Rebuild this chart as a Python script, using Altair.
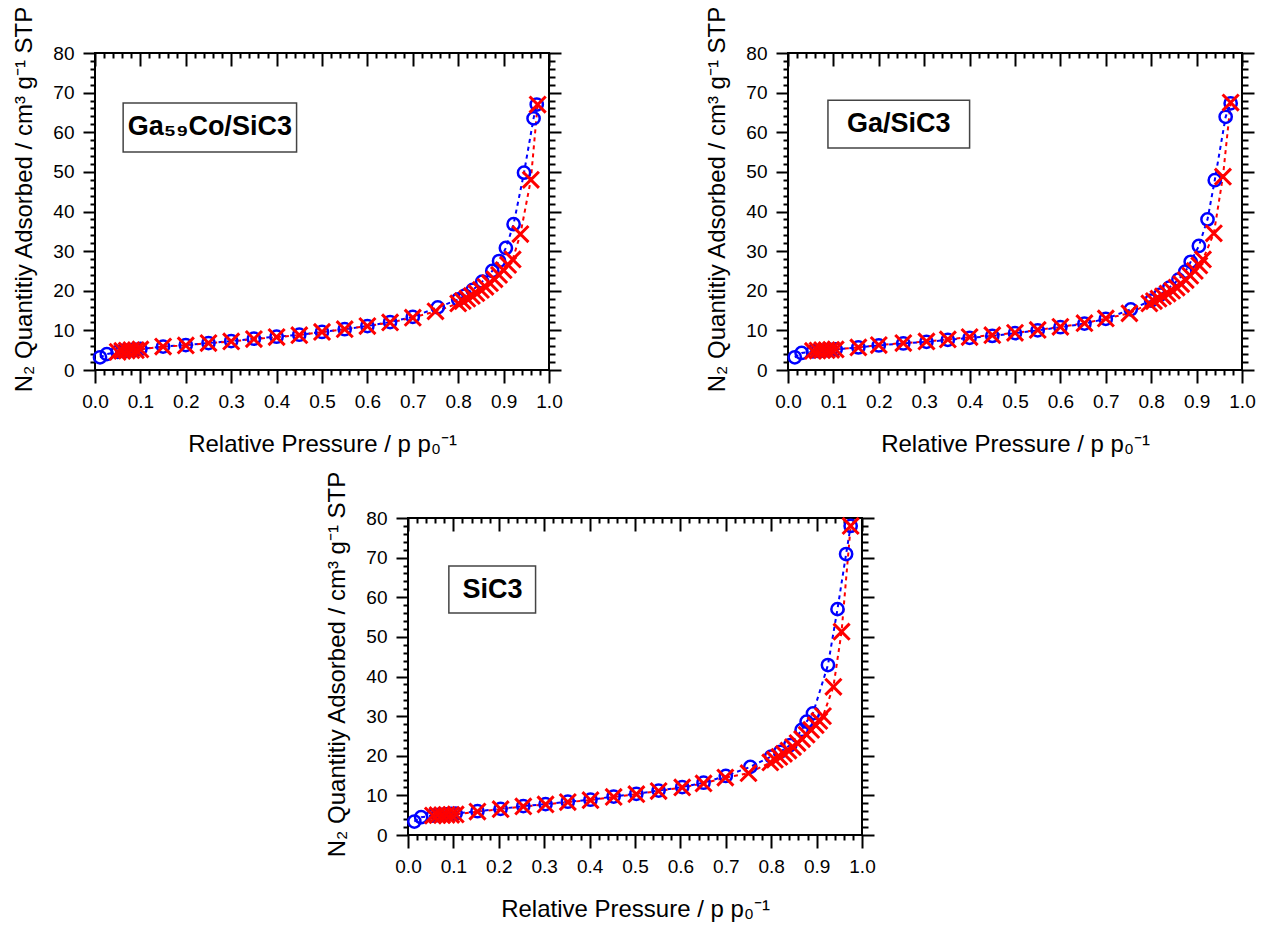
import altair as alt
import pandas as pd

# ---------------- data ----------------
# Panel 1: Ga59Co/SiC3
p1_ads_x = [0.011, 0.026, 0.05, 0.06, 0.07, 0.08, 0.09, 0.10, 0.15, 0.20, 0.25, 0.30, 0.35, 0.40,
            0.45, 0.50, 0.55, 0.60, 0.65, 0.70, 0.755, 0.80, 0.815, 0.832, 0.853, 0.875, 0.89,
            0.905, 0.922, 0.945, 0.966, 0.973]
p1_ads_y = [3.2, 4.0, 4.6, 4.8, 4.9, 5.0, 5.1, 5.3, 5.9, 6.3, 6.8, 7.3, 7.9, 8.4,
            8.9, 9.6, 10.3, 11.1, 12.1, 13.4, 15.8, 17.8, 18.8, 20.2, 22.3, 25.0, 27.5,
            30.8, 36.8, 49.8, 63.5, 67.0]
p1_des_x = [0.05, 0.06, 0.07, 0.08, 0.09, 0.10, 0.15, 0.20, 0.25, 0.30, 0.35, 0.40, 0.45, 0.50,
            0.55, 0.60, 0.65, 0.70, 0.75, 0.80, 0.81, 0.82, 0.83, 0.84, 0.85, 0.86, 0.87,
            0.88, 0.89, 0.90, 0.91, 0.92, 0.937, 0.96, 0.975]
p1_des_y = [4.6, 4.8, 4.9, 5.0, 5.0, 5.2, 5.9, 6.2, 6.8, 7.2, 7.8, 8.3, 8.8, 9.6,
            10.3, 11.1, 12.0, 13.2, 14.8, 16.8, 17.4, 18.0, 18.7, 19.4, 20.2, 21.0, 21.9,
            22.9, 24.0, 25.2, 26.5, 27.9, 34.3, 48.0, 67.0]

# Panel 2: Ga/SiC3
p2_ads_x = [0.015, 0.03, 0.055, 0.065, 0.075, 0.085, 0.095, 0.105, 0.155, 0.20, 0.254, 0.305,
            0.352, 0.40, 0.45, 0.50, 0.55, 0.60, 0.653, 0.70, 0.755, 0.80, 0.82, 0.84, 0.86,
            0.875, 0.887, 0.905, 0.924, 0.94, 0.964, 0.975]
p2_ads_y = [3.2, 4.3, 4.7, 4.8, 4.9, 5.0, 5.1, 5.2, 5.7, 6.2, 6.7, 7.1,
            7.6, 8.1, 8.6, 9.3, 10.0, 10.8, 11.7, 12.9, 15.3, 17.5, 19.0, 20.8, 22.8,
            24.8, 27.3, 31.3, 38.0, 47.9, 63.9, 67.3]
p2_des_x = [0.055, 0.065, 0.075, 0.085, 0.095, 0.105, 0.155, 0.20, 0.254, 0.305, 0.352, 0.40,
            0.45, 0.50, 0.55, 0.60, 0.653, 0.70, 0.752, 0.796, 0.806, 0.816, 0.826, 0.836,
            0.846, 0.856, 0.866, 0.876, 0.886, 0.896, 0.906, 0.914, 0.938, 0.958, 0.975]
p2_des_y = [4.8, 4.9, 5.0, 5.0, 5.1, 5.2, 5.7, 6.3, 6.8, 7.2, 7.7, 8.3,
            8.8, 9.4, 10.1, 10.9, 11.8, 13.0, 14.3, 16.8, 17.4, 18.0, 18.6, 19.3,
            20.0, 20.8, 21.7, 22.7, 23.8, 25.0, 26.4, 27.9, 34.5, 48.8, 67.5]

# Panel 3: SiC3
p3_ads_x = [0.014, 0.029, 0.055, 0.065, 0.075, 0.085, 0.095, 0.105, 0.153, 0.204, 0.254, 0.303,
            0.352, 0.402, 0.453, 0.503, 0.552, 0.604, 0.651, 0.70, 0.754, 0.80, 0.82, 0.842,
            0.867, 0.878, 0.892, 0.925, 0.946, 0.965, 0.975]
p3_ads_y = [3.4, 4.5, 4.9, 5.0, 5.1, 5.2, 5.3, 5.4, 6.0, 6.6, 7.3, 7.8,
            8.4, 8.9, 9.7, 10.4, 11.2, 12.1, 13.2, 14.9, 17.2, 19.8, 21.0, 22.7,
            26.5, 28.6, 30.7, 42.9, 57.0, 70.9, 78.0]
p3_des_x = [0.055, 0.065, 0.075, 0.085, 0.095, 0.105, 0.153, 0.204, 0.254, 0.303, 0.352, 0.402,
            0.453, 0.503, 0.552, 0.604, 0.651, 0.699, 0.75, 0.798, 0.808, 0.818, 0.828, 0.838,
            0.848, 0.858, 0.868, 0.878, 0.888, 0.898, 0.906, 0.914, 0.937, 0.955, 0.975]
p3_des_y = [4.9, 5.0, 5.0, 5.1, 5.1, 5.2, 5.9, 6.5, 7.2, 7.7, 8.3, 8.8,
            9.6, 10.3, 11.1, 12.0, 13.0, 14.5, 15.6, 18.3, 19.0, 19.7, 20.5, 21.3,
            22.2, 23.2, 24.2, 25.3, 26.5, 27.7, 28.8, 30.0, 37.4, 51.3, 78.0]

# sample labels and their boxes (data coordinates: x0, x1, y0, y1, text x, text y)
labels = ["Ga\u2085\u2089Co/SiC3", "Ga/SiC3", "SiC3"]
label_boxes = [
    [0.062, 0.444, 55.0, 67.4, 0.253, 61.2],
    [0.088, 0.400, 56.0, 68.1, 0.244, 62.0],
    [0.090, 0.281, 56.0, 67.9, 0.186, 61.9],
]

# axis tick values
x_major = [round(i * 0.1, 1) for i in range(11)]
x_minor = [round(i * 0.02, 2) for i in range(51) if i % 5 != 0]
y_major = list(range(0, 81, 10))
y_minor = [v for v in range(0, 81, 2) if v % 10 != 0]

x_title = "Relative Pressure / p p\u2080\u207b\u00b9"
y_title = "N\u2082 Quantitiy Adsorbed / cm\u00b3 g\u207b\u00b9 STP"

FONT = "Liberation Sans"
BLUE = "#0000FF"
RED = "#FF0000"
XPATH = "M-1,-1L1,1M-1,1L1,-1"
W, H = 454, 317

xs = alt.Scale(domain=[0, 1], nice=False, zero=False)
ys = alt.Scale(domain=[0, 80], nice=False, zero=False)


def tick_axis(orient, values, size, offset=0):
    kw = dict(orient=orient, values=values, tickSize=size, labels=False, domain=False,
              grid=False, title=None, tickWidth=2, tickColor="black")
    if offset:
        kw["offset"] = offset
    return alt.Axis(**kw)


bottom_major = alt.Axis(orient="bottom", values=x_major, format=".1f", tickSize=13, tickWidth=2,
                        tickColor="black", labelFontSize=19, labelPadding=9, labelColor="black",
                        labelFont=FONT, labelFlush=False, labelOverlap=False,
                        domain=False, grid=False, title=x_title,
                        titleFontSize=24, titleFontWeight="normal", titleFont=FONT,
                        titleColor="black", titlePadding=21)
left_major = alt.Axis(orient="left", values=y_major, format="d", tickSize=12, tickWidth=2,
                      tickColor="black", labelFontSize=19, labelPadding=9, labelColor="black",
                      labelFont=FONT, labelFlush=False, labelOverlap=False,
                      domain=False, grid=False, title=y_title,
                      titleFontSize=24, titleFontWeight="normal", titleFont=FONT,
                      titleColor="black", titlePadding=16, titleY=146)


def panel(ax, ay, dx, dy, label, box):
    ads = pd.DataFrame({"p": ax, "q": ay})
    des = pd.DataFrame({"p": dx, "q": dy})
    bdf = pd.DataFrame({"x0": [box[0]], "x1": [box[1]], "y0": [box[2]], "y1": [box[3]],
                        "tx": [box[4]], "ty": [box[5]], "t": [label]})

    ads_line = alt.Chart(ads).mark_line(color=BLUE, strokeDash=[4, 4], strokeWidth=2).encode(
        x=alt.X("p:Q", scale=xs, axis=bottom_major),
        y=alt.Y("q:Q", scale=ys, axis=left_major))
    des_line = alt.Chart(des).mark_line(color=RED, strokeDash=[4, 4], strokeWidth=2).encode(
        x=alt.X("p:Q", scale=xs, axis=tick_axis("bottom", x_minor, 5)),
        y=alt.Y("q:Q", scale=ys, axis=tick_axis("left", y_minor, 5)))
    ads_pts = alt.Chart(ads).mark_point(shape="circle", filled=False, color=BLUE, size=150,
                                        strokeWidth=2.5, opacity=1).encode(
        x=alt.X("p:Q", scale=xs, axis=tick_axis("top", x_major, 13, offset=-13)),
        y=alt.Y("q:Q", scale=ys, axis=tick_axis("right", y_major, 12)))
    des_pts = alt.Chart(des).mark_point(shape=XPATH, filled=False, color=RED, size=260,
                                        strokeWidth=3, opacity=1).encode(
        x=alt.X("p:Q", scale=xs, axis=tick_axis("top", x_minor, 5, offset=-5)),
        y=alt.Y("q:Q", scale=ys, axis=tick_axis("right", y_minor, 6)))
    rect = alt.Chart(bdf).mark_rect(fill="white", stroke="#444444", strokeWidth=1.5).encode(
        x=alt.X("x0:Q", scale=xs, axis=None), x2="x1",
        y=alt.Y("y0:Q", scale=ys, axis=None), y2="y1")
    text = alt.Chart(bdf).mark_text(font=FONT, fontSize=27, fontWeight="bold", color="black",
                                    align="center", baseline="middle").encode(
        x=alt.X("tx:Q", scale=xs, axis=None),
        y=alt.Y("ty:Q", scale=ys, axis=None),
        text="t:N")
    return alt.layer(ads_line, des_line, ads_pts, des_pts, rect, text).resolve_axis(
        x="independent", y="independent").properties(width=W, height=H)


p1 = panel(p1_ads_x, p1_ads_y, p1_des_x, p1_des_y, labels[0], label_boxes[0])
p2 = panel(p2_ads_x, p2_ads_y, p2_des_x, p2_des_y, labels[1], label_boxes[1])
p3 = panel(p3_ads_x, p3_ads_y, p3_des_x, p3_des_y, labels[2], label_boxes[2])

spacer = alt.Chart(pd.DataFrame({"a": [0]})).mark_point(opacity=0).encode(
    x=alt.value(0), y=alt.value(0)).properties(
    width=10, height=H, view=alt.ViewBackground(strokeOpacity=0))

row1 = alt.hconcat(p1, p2, spacing=239, bounds="flush")
row2 = alt.hconcat(spacer, p3, spacing=303, bounds="flush")

chart = alt.vconcat(row1, row2, spacing=12).properties(
    padding={"left": 11, "top": 4, "right": 5, "bottom": 5},
    background="white",
).configure(font=FONT).configure_view(stroke="black", strokeWidth=2)

chart.save("out.html", embed_options={"renderer": "svg", "actions": False})
